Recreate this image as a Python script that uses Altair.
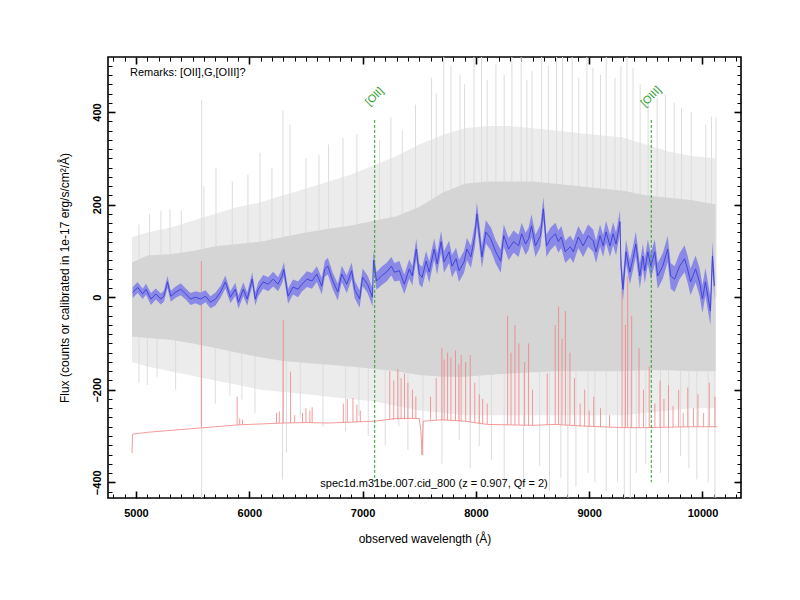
import altair as alt
import pandas as pd

# ---------------- data ----------------
# smoothed spectrum (blue) : wavelength (A), flux, 1-sigma
blue_wl = [4971, 5015, 5059, 5088, 5132, 5175, 5219, 5246, 5278, 5307,
           5351, 5395, 5439, 5482, 5526, 5570, 5614, 5658, 5702, 5746,
           5789, 5833, 5877, 5904, 5947, 5982, 6026, 6053, 6079, 6123,
           6167, 6211, 6254, 6290, 6305, 6342, 6386, 6430, 6465, 6509,
           6553, 6596, 6640, 6667, 6693, 6737, 6781, 6816, 6860, 6904,
           6930, 6974, 7000, 7044, 7088, 7096, 7123, 7167, 7211, 7254,
           7281, 7325, 7368, 7412, 7439, 7474, 7500, 7526, 7561, 7588,
           7632, 7658, 7693, 7719, 7763, 7789, 7825, 7851, 7895, 7921,
           7956, 7991, 8009, 8035, 8053, 8088, 8132, 8175, 8219, 8246,
           8289, 8333, 8377, 8404, 8439, 8465, 8491, 8526, 8570, 8596,
           8623, 8658, 8702, 8728, 8754, 8789, 8833, 8860, 8904, 8947,
           8991, 9035, 9061, 9096, 9123, 9149, 9184, 9211, 9237, 9272,
           9281, 9298, 9325, 9360, 9386, 9412, 9447, 9474, 9491, 9518,
           9544, 9579, 9605, 9649, 9693, 9719, 9754, 9798, 9842, 9868,
           9895, 9939, 9974, 10000, 10026, 10070, 10088, 10105]
blue_flux = [10, 21, 7, 17, -4, 7, -4, 2, 33, 2,
             11, 17, 7, -4, 0, -4, 2, -11, -4, 11,
             33, 0, 17, -11, 17, -4, 39, -4, 17, 33,
             28, 39, 28, 46, 60, 2, 22, 17, 28, 39,
             35, 50, 24, 61, 67, 35, 11, 50, 28, 57,
             17, -4, 43, 28, 0, 80, 35, 46, 54, 67,
             54, 57, 28, 61, 46, 104, 50, 43, 78, 54,
             104, 72, 120, 76, 98, 67, 83, 57, 76, 104,
             87, 133, 180, 126, 87, 141, 126, 98, 78, 133,
             104, 120, 111, 137, 115, 126, 154, 111, 133, 191,
             111, 126, 137, 120, 130, 98, 109, 98, 130, 111,
             133, 122, 98, 133, 111, 141, 111, 137, 115, 163,
             67, 17, 98, 54, 83, 115, 46, 89, 57, 98,
             67, 98, 46, 67, 104, 46, 39, 67, 83, 61,
             33, 61, 33, -4, 33, -30, 89, 24]
blue_err = [12, 12, 11, 12, 13, 12, 12, 12, 13, 12,
            12, 13, 12, 13, 13, 14, 13, 13, 14, 13,
            14, 13, 14, 14, 15, 14, 15, 14, 15, 15,
            15, 16, 15, 16, 16, 16, 16, 17, 16, 17,
            17, 17, 18, 17, 18, 18, 18, 18, 19, 18,
            19, 19, 19, 19, 20, 20, 19, 20, 20, 20,
            20, 21, 21, 21, 21, 22, 22, 22, 22, 23,
            23, 23, 23, 23, 24, 24, 24, 24, 24, 24,
            24, 25, 25, 25, 24, 25, 25, 25, 25, 24,
            24, 24, 24, 24, 24, 24, 25, 24, 24, 25,
            24, 24, 24, 24, 24, 24, 24, 24, 24, 24,
            24, 24, 24, 24, 24, 24, 24, 25, 25, 25,
            26, 26, 26, 26, 26, 27, 27, 27, 27, 27,
            27, 27, 28, 28, 28, 28, 28, 28, 29, 29,
            29, 29, 30, 30, 30, 31, 31, 31]

# raw spectrum (grey): dense core and outer envelope
env_wl = [4965, 5100, 5300, 5500, 5700, 5900, 6100, 6300, 6500, 6700,
          6900, 7100, 7300, 7500, 7700, 7900, 8100, 8300, 8500, 8700,
          8900, 9100, 9300, 9500, 9700, 9900, 10115]
core_hi = [75, 90, 93, 100, 110, 115, 120, 130, 140, 148,
           155, 165, 175, 195, 225, 245, 250, 250, 250, 245,
           240, 235, 230, 220, 215, 210, 200]
core_lo = [-85, -88, -92, -100, -110, -120, -130, -138, -142, -146,
           -150, -155, -160, -168, -172, -172, -168, -165, -162, -160,
           -160, -160, -160, -158, -158, -160, -160]
outer_hi = [130, 140, 150, 165, 180, 195, 205, 220, 235, 250,
            265, 285, 305, 330, 350, 365, 370, 370, 365, 360,
            355, 350, 345, 330, 315, 305, 300]
outer_lo = [-140, -150, -160, -170, -180, -190, -200, -205, -210, -215,
            -220, -225, -235, -245, -250, -255, -255, -255, -255, -255,
            -255, -255, -255, -250, -245, -240, -240]
# individual grey pixels reaching far up / down
spike_up_wl = [5026, 5120, 5220, 5300, 5400, 5580, 5600, 5706, 5850, 5988,
               6094, 6200, 6297, 6359, 6500, 6615, 6700, 6827, 6950, 7150,
               7250, 7350, 7467, 7609, 7650, 7716, 7780, 7860, 7900, 7983,
               8050, 8100, 8177, 8250, 8318, 8400, 8450, 8495, 8580, 8640,
               8712, 8765, 8850, 8908, 8980, 9033, 9100, 9150, 9228, 9280,
               9334, 9387, 9450, 9520, 9600, 9673, 9750, 9815, 9900, 10029,
               10080, 10119]
spike_up_top = [157, 180, 187, 190, 187, 427, 240, 280, 250, 265,
                312, 280, 403, 373, 300, 308, 330, 344, 352, 340,
                388, 360, 416, 474, 440, 519, 500, 481, 460, 519,
                519, 470, 503, 480, 519, 519, 470, 489, 519, 500,
                519, 519, 519, 474, 519, 496, 480, 519, 474, 500,
                519, 496, 460, 440, 430, 438, 420, 409, 400, 373,
                390, 388]
spike_dn_wl = [5026, 5100, 5186, 5350, 5580, 5700, 5829, 5935, 6050, 6293,
               6328, 6450, 6650, 6850, 6968, 7050, 7200, 7320, 7400, 7533,
               7700, 7853, 7950, 8030, 8137, 8250, 8421, 8563, 8650, 8750,
               8812, 8883, 8990, 9050, 9150, 9250, 9310, 9363, 9416, 9500,
               9630, 9700, 9807, 9880, 9950, 10050, 10110]
spike_dn_bot = [-185, -190, -172, -200, -434, -230, -214, -221, -250, -394,
                -336, -260, -280, -290, -257, -300, -320, -279, -330, -344,
                -360, -308, -370, -322, -351, -400, -394, -365, -420, -390,
                -434, -409, -380, -400, -420, -400, -434, -434, -380, -360,
                -380, -400, -344, -370, -394, -400, -434]

# sky spectrum (red): continuum and sky lines
sky_wl = [4965, 4970, 5100, 5300, 5500, 5700, 5900, 6100, 6300, 6500,
          6700, 6900, 7100, 7300, 7500, 7515, 7525, 7535, 7700, 7900,
          8100, 8300, 8500, 8700, 8900, 9100, 9300, 9500, 9700, 9900, 10130]
sky_flux = [-337, -296, -292, -288, -284, -280, -276, -274, -272, -271,
            -272, -270, -268, -262, -262, -290, -341, -268, -265, -268,
            -275, -276, -277, -275, -278, -280, -282, -282, -281, -280, -280]
skyline_wl = [5577, 5893, 5915, 5940, 6240, 6265, 6300, 6364, 6400, 6470,
              6500, 6535, 6555, 6830, 6865, 6915, 6950, 6980, 7240, 7275,
              7310, 7340, 7370, 7400, 7440, 7470, 7600, 7650, 7700, 7720,
              7750, 7780, 7820, 7850, 7870, 7910, 7950, 7990, 8030, 8060,
              8100, 8280, 8310, 8345, 8380, 8430, 8465, 8500, 8630, 8700,
              8730, 8760, 8790, 8830, 8870, 8920, 8960, 9000, 9040, 9100,
              9180, 9290, 9320, 9340, 9375, 9440, 9480, 9530, 9580, 9625,
              9660, 9700, 9740, 9790, 9830, 9870, 9920, 9960, 10010, 10060,
              10110]
skyline_peak = [78, -215, -262, -265, -250, -247, -50, -161, -255, -250,
                -240, -245, -238, -230, -220, -218, -232, -245, -160, -180,
                -155, -175, -165, -185, -200, -215, -215, -175, -110, -135,
                -120, -130, -115, -145, -125, -140, -125, -185, -210, -220,
                -230, -40, -120, -60, -100, -140, -100, -200, -165, -60,
                -20, -90, -30, -120, -175, -230, -200, -245, -215, -240,
                -255, 20, -60, 45, -40, -110, -200, -150, -230, -180,
                -220, -190, -235, -200, -250, -195, -240, -210, -250, -185,
                -215]
skyline_base = [-280, -276, -275, -275, -272, -272, -272, -272, -271, -271,
                -271, -271, -271, -270, -270, -270, -270, -270, -265, -265,
                -265, -264, -264, -263, -263, -262, -265, -265, -266, -266,
                -266, -267, -267, -268, -268, -269, -269, -270, -272, -273,
                -274, -276, -276, -276, -276, -277, -277, -277, -276, -275,
                -275, -275, -276, -277, -278, -279, -279, -280, -280, -281,
                -281, -282, -282, -282, -282, -282, -282, -282, -281, -281,
                -281, -281, -281, -280, -280, -280, -280, -280, -280, -280,
                -280]

# emission line markers
line_names = ["[OII]", "[OIII]"]
line_wl = [7107, 9548]
line_top = [383, 383]
line_bottom = [-400, -400]
line_label_y = [433, 433]

remarks = ["Remarks: [OII],G,[OIII]?"]
object_label = ["spec1d.m31be.007.cid_800 (z = 0.907, Qf = 2)"]

x_major = [5000, 6000, 7000, 8000, 9000, 10000]
x_ticks = list(range(4800, 10400, 100))
y_major = [-400, -200, 0, 200, 400]
y_ticks = list(range(-420, 520, 20))

# ---------------- chart ----------------
FONT = "Liberation Sans"
W, H = 633, 441
XS = alt.Scale(domain=[4753, 10340], nice=False, zero=False)
YS = alt.Scale(domain=[-434, 519], nice=False, zero=False)


def xq(f):
    return alt.X(f, type="quantitative", scale=XS, axis=None)


def yq(f):
    return alt.Y(f, type="quantitative", scale=YS, axis=None)


env_df = pd.DataFrame({"wl": env_wl, "core_hi": core_hi, "core_lo": core_lo,
                       "outer_hi": outer_hi, "outer_lo": outer_lo})
up_df = pd.DataFrame({"wl": spike_up_wl, "v": spike_up_top})
dn_df = pd.DataFrame({"wl": spike_dn_wl, "v": spike_dn_bot})
sky_df = pd.DataFrame({"wl": sky_wl, "flux": sky_flux})
skyl_df = pd.DataFrame({"wl": skyline_wl, "peak": skyline_peak, "base": skyline_base})
blue_df = pd.DataFrame({"wl": blue_wl, "flux": blue_flux, "err": blue_err})
lines_df = pd.DataFrame({"name": line_names, "wl": line_wl, "top": line_top,
                         "bottom": line_bottom, "ly": line_label_y})

outer = alt.Chart(env_df).mark_area(color="#ececec").encode(
    x=xq("wl"), y=yq("outer_lo"), y2=alt.Y2("outer_hi"))
spk_up = alt.Chart(up_df).mark_rule(color="#dcdcdc", strokeWidth=1, clip=True).encode(
    x=xq("wl"), y=yq("v"), y2=alt.datum(0))
spk_dn = alt.Chart(dn_df).mark_rule(color="#dcdcdc", strokeWidth=1, clip=True).encode(
    x=xq("wl"), y=yq("v"), y2=alt.datum(0))
core = alt.Chart(env_df).mark_area(color="#d5d5d5").encode(
    x=xq("wl"), y=yq("core_lo"), y2=alt.Y2("core_hi"))
sky = alt.Chart(sky_df).mark_line(color="#f28080", strokeWidth=0.8).encode(
    x=xq("wl"), y=yq("flux"))
skyl = alt.Chart(skyl_df).mark_rule(color="#f28080", strokeWidth=0.8).encode(
    x=xq("wl"), y=yq("peak"), y2=alt.Y2("base"))
band = alt.Chart(blue_df).transform_calculate(
    lo="datum.flux - datum.err", hi="datum.flux + datum.err"
).mark_area(color="#8a8ae6").encode(x=xq("wl"), y=yq("lo"), y2=alt.Y2("hi"))
blue = alt.Chart(blue_df).mark_line(color="#3c3cd8", strokeWidth=0.9).encode(
    x=xq("wl"), y=yq("flux"))
glines = alt.Chart(lines_df).mark_rule(color="#2a9d2a", strokeWidth=1,
                                       strokeDash=[3, 2]).encode(
    x=xq("wl"), y=yq("top"), y2=alt.Y2("bottom"))
glabels = alt.Chart(lines_df).mark_text(color="#2a9d2a", font=FONT, fontSize=11,
                                        angle=315, align="center",
                                        baseline="middle").encode(
    x=xq("wl"), y=yq("ly"), text="name:N")
rem = alt.Chart(pd.DataFrame({"t": remarks})).mark_text(
    font=FONT, fontSize=11, align="left", baseline="middle", color="black").encode(
    x=alt.value(22), y=alt.value(16), text="t:N")
obj = alt.Chart(pd.DataFrame({"t": object_label})).mark_text(
    font=FONT, fontSize=11, align="center", baseline="middle", color="black").encode(
    x=alt.value(326), y=alt.value(427), text="t:N")

anchor = pd.DataFrame({"x": [7500], "y": [0]})
major_test_x = "datum.value % 1000 === 0"
major_test_y = "datum.value % 200 === 0"

axis_labels = alt.Chart(anchor).mark_point(opacity=0).encode(
    x=alt.X("x:Q", scale=XS, axis=alt.Axis(
        orient="bottom", values=x_major, format="d", ticks=False, tickSize=0,
        domain=False, grid=False, labelFont=FONT, labelFontSize=11,
        labelFontWeight="bold", labelColor="black", labelPadding=9,
        title="observed wavelength (Å)", titleFont=FONT, titleFontSize=12,
        titleFontWeight="normal", titleColor="black", titlePadding=15)),
    y=alt.Y("y:Q", scale=YS, axis=alt.Axis(
        orient="left", values=y_major, format="d", ticks=False, tickSize=0,
        domain=False, grid=False, labelFont=FONT, labelFontSize=11,
        labelFontWeight="bold", labelColor="black", labelAngle=270,
        labelAlign="center", labelBaseline="bottom", labelPadding=6,
        title="Flux (counts or calibrated in 1e-17 erg/s/cm²/Å)", titleFont=FONT,
        titleFontSize=12, titleFontWeight="normal", titleColor="black",
        titlePadding=20)),
)


def tick_axis(orient, offset, values, test):
    return alt.Axis(
        orient=orient, offset=offset, values=values, labels=False, domain=False,
        grid=False, ticks=True, tickColor="black",
        tickSize={"condition": {"test": test, "value": 7}, "value": 4},
        tickWidth={"condition": {"test": test, "value": 1.6}, "value": 1},
        title=None)


ticks_a = alt.Chart(anchor).mark_point(opacity=0).encode(
    x=alt.X("x:Q", scale=XS, axis=tick_axis("top", -H, x_ticks, major_test_x)),
    y=alt.Y("y:Q", scale=YS, axis=tick_axis("right", -W, y_ticks, major_test_y)),
)
ticks_b = alt.Chart(anchor).mark_point(opacity=0).encode(
    x=alt.X("x:Q", scale=XS, axis=tick_axis("bottom", -H, x_ticks, major_test_x)),
    y=alt.Y("y:Q", scale=YS, axis=tick_axis("left", -W, y_ticks, major_test_y)),
)

chart = alt.layer(
    outer, spk_up, spk_dn, core, sky, skyl, band, blue, glines, glabels, rem, obj,
    axis_labels, ticks_a, ticks_b
).resolve_axis(x="independent", y="independent").properties(
    width=W, height=H, autosize="none",
    padding={"left": 100, "top": 49, "right": 51, "bottom": 94},
    background="white",
).configure_view(stroke="black", strokeWidth=1.6)

chart.save("out.html", embed_options={"renderer": "svg", "actions": False})
